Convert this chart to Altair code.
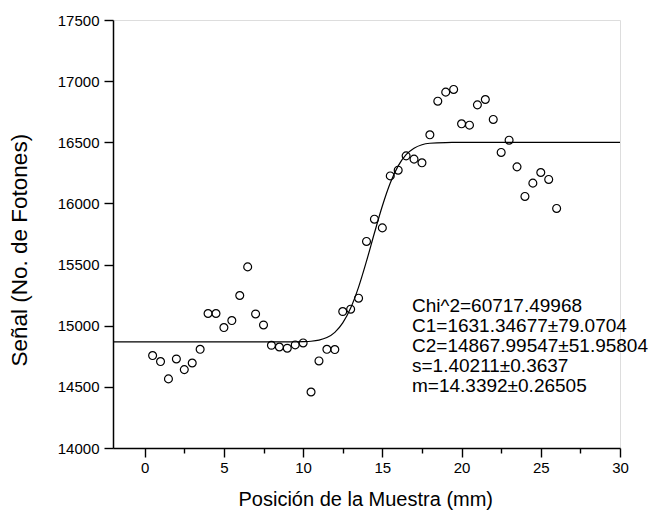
import altair as alt
import pandas as pd

# measured points
pos_mm = [0.5, 1.0, 1.5, 2.0, 2.5, 3.0, 3.5, 4.0, 4.5, 5.0, 5.5, 6.0, 6.5,
          7.0, 7.5, 8.0, 8.5, 9.0, 9.5, 10.0, 10.5, 11.0, 11.5, 12.0, 12.5,
          13.0, 13.5, 14.0, 14.5, 15.0, 15.5, 16.0, 16.5, 17.0, 17.5, 18.0,
          18.5, 19.0, 19.5, 20.0, 20.5, 21.0, 21.5, 22.0, 22.5, 23.0, 23.5,
          24.0, 24.5, 25.0, 25.5, 26.0]
signal = [14756, 14707, 14565, 14728, 14641, 14695, 14807, 15100, 15100,
          14985, 15042, 15247, 15481, 15096, 15006, 14840, 14826, 14816,
          14843, 14859, 14458, 14712, 14807, 14805, 15116, 15135, 15225,
          15689, 15871, 15800, 16225, 16272, 16389, 16362, 16332, 16561,
          16836, 16910, 16932, 16651, 16640, 16806, 16850, 16687, 16417,
          16517, 16299, 16057, 16166, 16253, 16196, 15959]

# fitted curve
fit_x = [-2, 9, 10, 10.5, 11, 11.5, 12, 12.5, 13, 13.5, 14, 14.5, 15, 15.5,
         16, 16.5, 17, 17.5, 18, 19, 20, 30]
fit_y = [14868, 14868, 14870, 14873, 14882, 14903, 14946, 15023, 15145,
         15316, 15528, 15758, 15979, 16167, 16307, 16399, 16452, 16480,
         16492, 16498, 16499, 16499]

y_ticks = [14000, 14250, 14500, 14750, 15000, 15250, 15500, 15750, 16000,
           16250, 16500, 16750, 17000, 17250, 17500]
x_ticks = [0, 2.5, 5, 7.5, 10, 12.5, 15, 17.5, 20, 22.5, 25, 27.5, 30]

fit_lines = ["Chi^2=60717.49968",
             "C1=1631.34677\u00b179.0704",
             "C2=14867.99547\u00b151.95804",
             "s=1.40211\u00b10.3637",
             "m=14.3392\u00b10.26505"]

pts = pd.DataFrame({"x": pos_mm, "y": signal})
fit = pd.DataFrame({"x": fit_x, "y": fit_y})
ann = pd.DataFrame({"t": ["\n".join(fit_lines)]})

FONT = "Liberation Sans"

x_scale = alt.Scale(domain=[-2, 30], nice=False, zero=False)
y_scale = alt.Scale(domain=[14000, 17500], nice=False, zero=False)

x_axis = alt.Axis(
    values=x_ticks,
    labelExpr="datum.value % 5 === 0 ? datum.label : ''",
    tickSize={"condition": {"test": "datum.value % 5 === 0", "value": 9}, "value": 5},
    grid=False, domainColor="black", tickColor="black", labelColor="black",
    domainWidth=1.5, tickWidth=1.4, labelFontSize=15, labelFont=FONT,
    labelPadding=3, title="Posición de la Muestra (mm)", titleFont=FONT,
    titleFontSize=20, titleFontWeight="normal", titleColor="black",
    titleX=125, titleY=57, titleAlign="left", titleBaseline="alphabetic",
    labelFlush=False, labelOverlap=False,
)
y_axis = alt.Axis(
    values=y_ticks,
    labelExpr="datum.value % 500 === 0 ? datum.label : ''",
    tickSize={"condition": {"test": "datum.value % 500 === 0", "value": 9}, "value": 5},
    grid=False, domainColor="black", tickColor="black", labelColor="black",
    domainWidth=1.5, tickWidth=1.4, labelFontSize=15, labelFont=FONT,
    labelPadding=5, title="Señal (No. de Fotones)", titleFont=FONT,
    titleFontSize=22.5, titleFontWeight="normal", titleColor="black",
    titleX=-87, titleY=346, titleAngle=-90, titleAlign="left",
    titleBaseline="alphabetic", labelFlush=False, labelOverlap=False,
    format="d",
)

curve = alt.Chart(fit).mark_line(color="black", strokeWidth=1.2, interpolate="monotone").encode(
    x=alt.X("x:Q", scale=x_scale, axis=x_axis),
    y=alt.Y("y:Q", scale=y_scale, axis=y_axis),
)
points = alt.Chart(pts).mark_point(shape="circle", filled=False, color="black",
                                   strokeWidth=1.2, size=62, opacity=1).encode(
    x=alt.X("x:Q", scale=x_scale),
    y=alt.Y("y:Q", scale=y_scale),
)
text = alt.Chart(ann).mark_text(align="left", baseline="top", fontSize=19,
                                font=FONT, lineHeight=20, color="black",
                                lineBreak="\n").encode(
    text="t:N", x=alt.value(299), y=alt.value(277),
)

chart = alt.layer(curve, points, text).properties(
    width=507, height=428,
    padding={"left": 113, "top": 20, "right": 46, "bottom": 62},
    autosize=alt.AutoSizeParams(type="none"),
).configure_view(stroke=None).configure(background="white")

chart.save("out.html", embed_options={"renderer": "svg", "actions": False})
